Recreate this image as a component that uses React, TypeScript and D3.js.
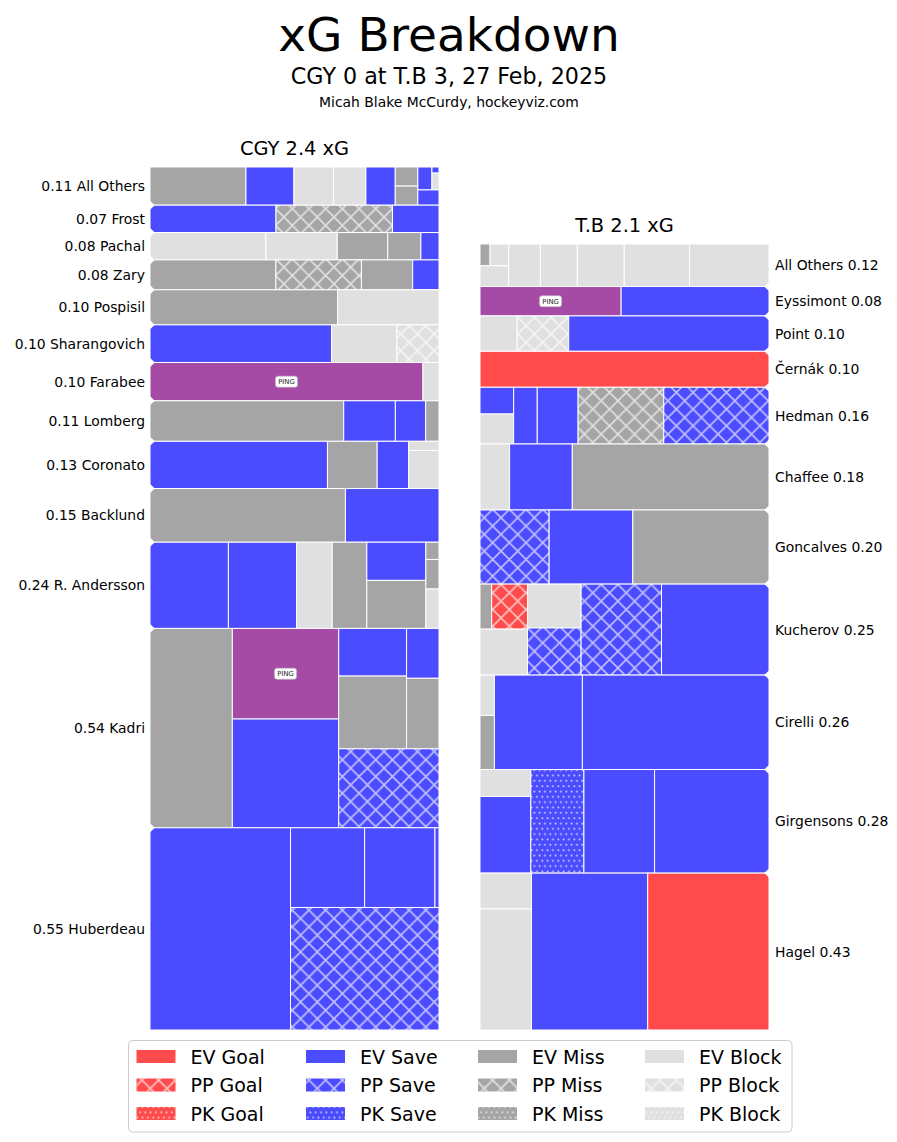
import * as React from "react";
import * as d3 from "d3";

// a shot is [xG, kind]; kind = strength letter (E/P/K) + outcome letter (G/S/M/B), or PING (post)
// nested arrays group shots into the columns / stacks of each player's treemap
type Shot = [number, string];
type Cell = Shot | Cell[];

const strengths = ["EV", "PP", "PK"];
const outcomes = ["Goal", "Save", "Miss", "Block"];
const outcomeColors = ["#ff4b4b", "#4b4bff", "#a5a5a5", "#e0e0e0"];
const pingColor = "#a54ba5";

const teams = ["CGY", "T.B"];
const teamXg = [2.4, 2.1];

const cgyPlayers = ["All Others", "Frost", "Pachal", "Zary", "Pospisil", "Sharangovich", "Farabee",
    "Lomberg", "Coronato", "Backlund", "R. Andersson", "Kadri", "Huberdeau"];
const cgyPlayerXg = [0.11, 0.07, 0.08, 0.08, 0.10, 0.10, 0.10, 0.11, 0.13, 0.15, 0.24, 0.54, 0.55];
const cgyShots: Cell[][] = [
    [[0.034, "EM"], [0.017, "ES"], [0.014, "EB"], [0.0115, "EB"], [0.0104, "ES"], [[0.004, "EM"], [0.004, "EM"]],
        [[[0.003, "ES"], [[0.0004, "ES"], [0.0011, "EB"]]], [0.003, "ES"]]],
    [[0.032, "ES"], [0.0296, "PM"], [0.0118, "ES"]],
    [[0.0294, "EB"], [0.0181, "EB"], [0.0128, "EM"], [0.0084, "EM"], [0.0046, "ES"]],
    [[0.0349, "EM"], [0.0237, "PM"], [0.0142, "EM"], [0.0073, "ES"]],
    [[0.061, "EM"], [0.033, "EB"]],
    [[0.0634, "ES"], [0.0228, "EB"], [0.0147, "PB"]],
    [[0.097, "PING"], [0.0057, "EB"]],
    [[0.0728, "EM"], [0.0194, "ES"], [0.0114, "ES"], [0.005, "EM"]],
    [[0.0778, "ES"], [0.0218, "EM"], [0.0138, "ES"], [[0.0026, "EB"], [0.0107, "EB"]]],
    [[0.0973, "EM"], [0.0466, "ES"]],
    [[0.0627, "ES"], [0.0545, "ES"], [0.0285, "EB"], [0.0277, "EM"], [[0.0209, "ES"], [0.0263, "EM"]],
        [[0.0021, "EM"], [0.0036, "EM"], [0.0048, "EB"]]],
    [[0.1523, "EM"], [[0.0894, "PING"], [0.1073, "ES"]],
        [[[[0.030, "ES"], [0.0458, "EM"]], [[0.015, "ES"], [0.0212, "EM"]]], [0.0735, "PS"]]],
    [[0.2636, "ES"], [[[0.0548, "ES"], [0.052, "ES"], [0.003, "ES"]], [0.1688, "PS"]]],
];

const tbPlayers = ["All Others", "Eyssimont", "Point", "Černák", "Hedman", "Chaffee", "Goncalves",
    "Kucherov", "Cirelli", "Girgensons", "Hagel"];
const tbPlayerXg = [0.12, 0.08, 0.10, 0.10, 0.16, 0.18, 0.20, 0.25, 0.26, 0.28, 0.43];
const tbShots: Cell[][] = [
    [[[[0.002, "EM"], [0.0037, "EB"]], [0.0054, "EB"]], [0.0123, "EB"], [0.0143, "EB"], [0.0182, "EB"],
        [0.0253, "EB"], [0.0308, "EB"]],
    [[0.0378, "PING"], [0.0396, "ES"]],
    [[0.012, "EB"], [0.0166, "PB"], [0.0646, "ES"]],
    [[0.0947, "EG"]],
    [[[0.0082, "ES"], [0.0092, "EB"]], [0.0122, "ES"], [0.0211, "ES"], [0.0443, "PM"], [0.0544, "PS"]],
    [[0.0178, "EB"], [0.0377, "ES"], [0.1183, "EM"]],
    [[0.0467, "PS"], [0.0565, "ES"], [0.092, "EM"]],
    [[[[0.0048, "EM"], [0.0147, "PG"]], [0.0199, "EB"]], [[0.0214, "EB"], [0.023, "PS"]], [0.0667, "PS"],
        [0.0891, "ES"]],
    [[[0.0053, "EB"], [0.0071, "EM"]], [0.0757, "ES"], [0.1606, "ES"]],
    [[[0.0125, "EB"], [0.0355, "ES"]], [0.0501, "KS"], [0.0667, "ES"], [0.108, "ES"]],
    [[[0.0168, "EB"], [0.0568, "EB"]], [0.1662, "ES"], [0.1734, "EG"]],
];

const FONT = "DejaVu Sans, Liberation Sans, sans-serif";
const isShot = (d: any) => typeof d[0] === "number";

function kindColor(kind: string) {
    if (kind === "PING") return pingColor;
    return outcomeColors["GSMB".indexOf(kind[1])];
}

function kindPattern(kind: string, legend = false) {
    if (kind[0] === "P" && kind !== "PING") return legend ? "url(#hxL)" : "url(#hx)";
    if (kind[0] === "K") return legend ? "url(#dotL)" : "url(#dot)";
    return null;
}

// rows of players stacked, then columns, then stacks, alternating
const tile = (node: any, x0: number, y0: number, x1: number, y1: number) =>
    (node.depth % 2 === 0 ? d3.treemapSlice : d3.treemapDice)(node, x0, y0, x1, y1);

function Panel(props: any) {
    const {shots, players, playerXg, left, top, bottom, width, side, title} = props;
    const root = d3.hierarchy<any>(shots, (d: any) => (isShot(d) ? null : d))
        .sum((d: any) => (isShot(d) ? d[0] : 0));
    d3.treemap<any>().tile(tile).size([width, bottom - top])(root);
    const rows: any[] = root.children || [];
    const leaves: any[] = root.leaves();
    const edgeX = side === "left" ? left : left + width;
    const dir = side === "left" ? 1 : -1;

    return <g>
        <text x={left + width / 2} y={top - 19} textAnchor="middle" dominantBaseline="central"
              fontSize={19.4} fontFamily={FONT}>{title}</text>
        {leaves.map((n, i) => {
            const kind = n.data[1];
            const x = left + n.x0, y = top + n.y0, w = n.x1 - n.x0, h = n.y1 - n.y0;
            const pat = kindPattern(kind);
            return <g key={i}>
                <rect x={x} y={y} width={w} height={h} fill={kindColor(kind)}/>
                {pat && <rect x={x} y={y} width={w} height={h} fill={pat}/>}
                <rect x={x} y={y} width={w} height={h} fill="none" stroke="white" strokeWidth={1}/>
                {kind === "PING" && <g>
                    <rect x={x + w / 2 - 11} y={y + h / 2 - 5.5} width={22} height={11} rx={2.5}
                          fill="white" stroke="#bbb" strokeWidth={0.6}/>
                    <text x={x + w / 2} y={y + h / 2 + 0.3} textAnchor="middle" dominantBaseline="central"
                          fontSize={6.8} fontFamily={FONT} fill="#222">PING</text>
                </g>}
            </g>;
        })}
        {rows.slice(1).map((r, i) => {
            const y = top + r.y0;
            return <path key={"n" + i} fill="white"
                         d={`M${edgeX - dir},${y - 5.5}L${edgeX + dir * 4.8},${y}L${edgeX - dir},${y + 5.5}Z`}/>;
        })}
        {rows.map((r, i) => {
            const cy = top + (r.y0 + r.y1) / 2;
            const label = side === "left"
                ? `${playerXg[i].toFixed(2)} ${players[i]}`
                : `${players[i]} ${playerXg[i].toFixed(2)}`;
            return <text key={"l" + i} x={side === "left" ? left - 5 : left + width + 6} y={cy}
                         textAnchor={side === "left" ? "end" : "start"} dominantBaseline="central"
                         fontSize={13.9} fontFamily={FONT}>{label}</text>;
        })}
    </g>;
}

const legendCols = [136.5, 306, 478, 645];
const legendRows = [1056.5, 1085, 1113.5];

function Legend() {
    return <g>
        <rect x={128.5} y={1040.5} width={663.5} height={91.5} rx={4} fill="white" stroke="#cccccc"
              strokeWidth={1}/>
        {outcomes.map((o, ci) => strengths.map((s, ri) => {
            const kind = s[0] === "E" ? "E" + o[0] : (s === "PP" ? "P" : "K") + o[0];
            const pat = kindPattern(kind, true);
            const x = legendCols[ci], y = legendRows[ri];
            return <g key={o + s}>
                <rect x={x} y={y - 6.5} width={39} height={13} fill={outcomeColors[ci]}/>
                {pat && <rect x={x} y={y - 6.5} width={39} height={13} fill={pat}/>}
                <text x={x + 54} y={y} dominantBaseline="central" fontSize={19} fontFamily={FONT}>
                    {s} {o}
                </text>
            </g>;
        }))}
    </g>;
}

export default function App() {
    return <svg width={897} height={1142} style={{position: "absolute", left: 0, top: 0, background: "white"}}>
        <defs>
            <pattern id="hx" patternUnits="userSpaceOnUse" width={16.7} height={16.7}>
                <path d="M-1,-1L17.7,17.7M17.7,-1L-1,17.7" stroke="white" strokeOpacity={0.65} strokeWidth={1.6}/>
            </pattern>
            <pattern id="hxL" patternUnits="userSpaceOnUse" width={16.7} height={16.7} x={0} y={3}>
                <path d="M-1,-1L17.7,17.7M17.7,-1L-1,17.7" stroke="white" strokeOpacity={0.65} strokeWidth={1.6}/>
            </pattern>
            <pattern id="dot" patternUnits="userSpaceOnUse" width={5.33} height={10.66}>
                <circle cx={1.3} cy={2.7} r={0.9} fill="white" fillOpacity={0.8}/>
                <circle cx={3.97} cy={8} r={0.9} fill="white" fillOpacity={0.8}/>
            </pattern>
            <pattern id="dotL" patternUnits="userSpaceOnUse" width={5.33} height={10.66} y={1}>
                <circle cx={1.3} cy={2.7} r={0.9} fill="white" fillOpacity={0.8}/>
                <circle cx={3.97} cy={8} r={0.9} fill="white" fillOpacity={0.8}/>
            </pattern>
        </defs>
        <rect width={897} height={1142} fill="white"/>
        <text x={449} y={34} textAnchor="middle" dominantBaseline="central" fontSize={47}
              fontFamily={FONT}>xG Breakdown</text>
        <text x={449} y={76} textAnchor="middle" dominantBaseline="central" fontSize={22.2}
              fontFamily={FONT}>CGY 0 at T.B 3, 27 Feb, 2025</text>
        <text x={449} y={102} textAnchor="middle" dominantBaseline="central" fontSize={13.9}
              fontFamily={FONT}>Micah Blake McCurdy, hockeyviz.com</text>
        <Panel shots={cgyShots} players={cgyPlayers} playerXg={cgyPlayerXg} left={150} top={167} bottom={1030}
               width={289} side="left" title={`${teams[0]} ${teamXg[0].toFixed(1)} xG`}/>
        <Panel shots={tbShots} players={tbPlayers} playerXg={tbPlayerXg} left={480} top={244} bottom={1030}
               width={289} side="right" title={`${teams[1]} ${teamXg[1].toFixed(1)} xG`}/>
        <Legend/>
    </svg>;
}
